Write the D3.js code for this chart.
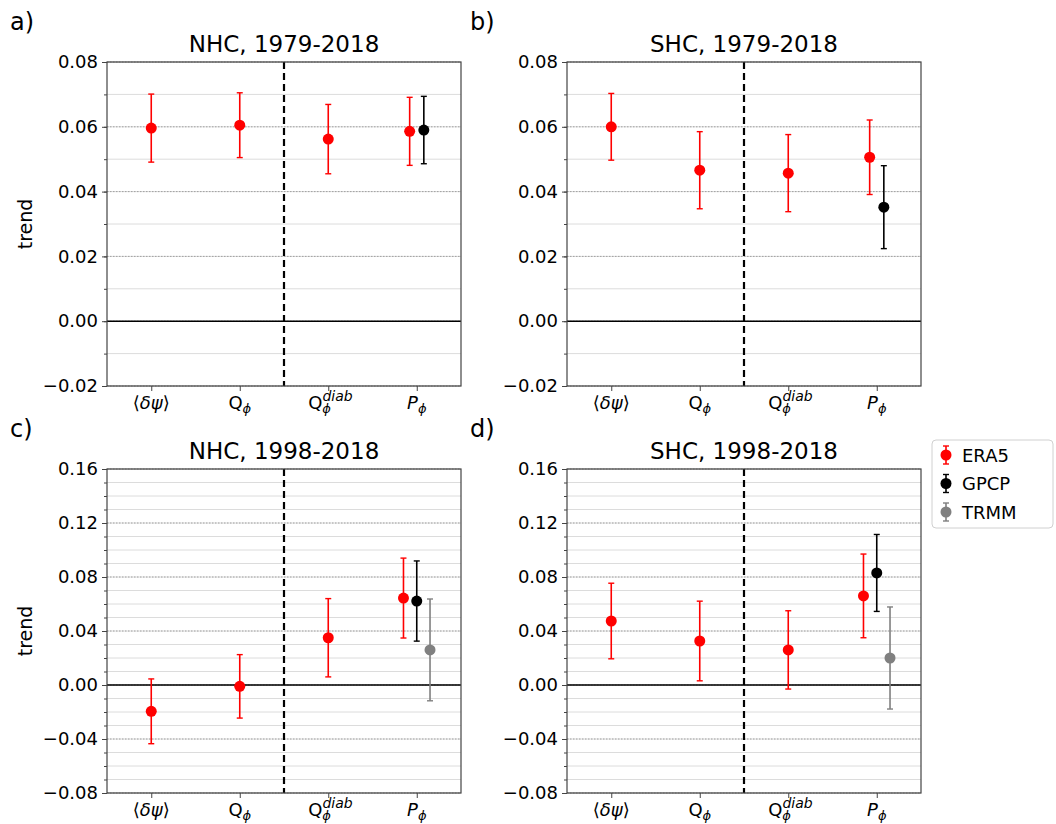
<!DOCTYPE html>
<html>
<head>
<meta charset="utf-8">
<script src="https://cdn.jsdelivr.net/npm/d3@7"></script>
<style>
  body { margin: 0; background: #fff; }
  svg text { font-family: "DejaVu Sans", sans-serif; fill: #000; }
</style>
</head>
<body>
<div id="chart"></div>
<script>
// categories along x (index 0..3)
var categories = ["dpsi", "Q", "Qdiab", "P"];

// panel titles / letters
var titles = ["NHC, 1979-2018", "SHC, 1979-2018", "NHC, 1998-2018", "SHC, 1998-2018"];
var letters = ["a)", "b)", "c)", "d)"];

// ERA5 trend and half-width of the error bar, per panel
var era5_nhc79 = [0.0596, 0.0605, 0.0562, 0.0586];
var era5_nhc79_err = [0.0105, 0.0100, 0.0107, 0.0105];
var era5_shc79 = [0.0600, 0.0466, 0.0457, 0.0506];
var era5_shc79_err = [0.0103, 0.0119, 0.0119, 0.0115];
var era5_nhc98 = [-0.0195, -0.0010, 0.0350, 0.0644];
var era5_nhc98_err = [0.0240, 0.0235, 0.0290, 0.0296];
var era5_shc98 = [0.0474, 0.0326, 0.0260, 0.0660];
var era5_shc98_err = [0.0280, 0.0295, 0.0290, 0.0310];

// observations, only for P_phi
var gpcp = [0.0590, 0.0352, 0.0622, 0.0830];
var gpcp_err = [0.0104, 0.0128, 0.0297, 0.0285];
var trmm = [null, null, 0.0260, 0.0200];
var trmm_err = [null, null, 0.0377, 0.0378];

// y axis setup per panel
var yDomains = [[-0.02, 0.08], [-0.02, 0.08], [-0.08, 0.16], [-0.08, 0.16]];
var yMajor = [d3.range(-0.02, 0.0801, 0.02), d3.range(-0.02, 0.0801, 0.02),
              d3.range(-0.08, 0.1601, 0.04), d3.range(-0.08, 0.1601, 0.04)];
var yMinorStep = 0.01;

var colors = { ERA5: "#ff0000", GPCP: "#000000", TRMM: "#808080" };

var width = 1056, height = 824;
var svg = d3.select("#chart").append("svg")
    .attr("width", width)
    .attr("height", height);

var pw = 354, ph = 324;
var origins = [[107, 62], [567, 62], [107, 469], [567, 469]];

function panel(i) {
    var ox = origins[i][0], oy = origins[i][1];
    var g = svg.append("g").attr("transform", "translate(" + ox + "," + oy + ")");

    var x = d3.scaleLinear().domain([-0.5, 3.5]).range([0, pw]);
    var y = d3.scaleLinear().domain(yDomains[i]).range([ph, 0]);

    // minor grid
    var dom = yDomains[i];
    var n = Math.round((dom[1] - dom[0]) / yMinorStep);
    var minor = d3.range(n + 1).map(function(k) { return +(dom[0] + k * yMinorStep).toFixed(4); });
    g.append("g").selectAll("line").data(minor).enter().append("line")
        .attr("x1", 0).attr("x2", pw)
        .attr("y1", function(d) { return y(d); }).attr("y2", function(d) { return y(d); })
        .attr("stroke", "#dcdcdc").attr("stroke-width", 1);
    // major grid (dotted)
    g.append("g").selectAll("line").data(yMajor[i]).enter().append("line")
        .attr("x1", 0).attr("x2", pw)
        .attr("y1", function(d) { return y(d); }).attr("y2", function(d) { return y(d); })
        .attr("stroke", "#a0a0a0").attr("stroke-width", 1)
        .attr("stroke-dasharray", "1.5,1.5");

    // zero line
    g.append("line").attr("x1", 0).attr("x2", pw)
        .attr("y1", y(0)).attr("y2", y(0))
        .attr("stroke", "#000").attr("stroke-width", 1.6);

    // dashed separator
    g.append("line").attr("x1", x(1.5)).attr("x2", x(1.5))
        .attr("y1", 0).attr("y2", ph)
        .attr("stroke", "#000").attr("stroke-width", 2.2)
        .attr("stroke-dasharray", "7,4");

    // y axis, minor ticks then major
    g.append("g")
        .call(d3.axisLeft(y).tickValues(minor).tickSize(3).tickFormat(""))
        .call(function(a) { a.select(".domain").remove(); a.selectAll("line").attr("stroke", "#444"); });
    var ya = g.append("g")
        .call(d3.axisLeft(y).tickValues(yMajor[i]).tickSize(5).tickPadding(4)
            .tickFormat(function(d) { return d3.format(".2f")(Math.abs(d) < 1e-9 ? 0 : d).replace("-", "\u2212"); }));
    ya.select(".domain").remove();
    ya.selectAll("line").attr("stroke", "#444");
    ya.selectAll("text").style("font-size", "18px").style("font-family", "DejaVu Sans");

    // x axis ticks
    var xa = g.append("g").attr("transform", "translate(0," + ph + ")")
        .call(d3.axisBottom(x).tickValues([0, 1, 2, 3]).tickSize(5).tickFormat(""));
    xa.select(".domain").remove();
    xa.selectAll("line").attr("stroke", "#444");
    categories.forEach(function(c, k) {
        var t = g.append("text").attr("x", x(k)).attr("y", ph + 23)
            .attr("text-anchor", "middle").style("font-size", "18px");
        if (c === "dpsi") {
            t.append("tspan").text("\u27e8");
            t.append("tspan").style("font-style", "italic").text("\u03b4\u03c8");
            t.append("tspan").text("\u27e9");
        } else if (c === "Q") {
            t.append("tspan").text("Q");
            t.append("tspan").attr("dy", 4).style("font-size", "13px").style("font-style", "italic").text("\u03d5");
        } else if (c === "Qdiab") {
            t.attr("x", x(k) - 20).attr("text-anchor", "start");
            t.append("tspan").text("Q");
            t.append("tspan").attr("dy", -8).style("font-size", "14px").style("font-style", "italic").text("diab");
            t.append("tspan").attr("x", x(k) - 6).attr("dy", 12).style("font-size", "13px").style("font-style", "italic").text("\u03d5");
        } else {
            t.append("tspan").style("font-style", "italic").text("P");
            t.append("tspan").attr("dy", 4).style("font-size", "13px").style("font-style", "italic").text("\u03d5");
        }
    });

    // frame
    g.append("rect").attr("width", pw).attr("height", ph)
        .attr("fill", "none").attr("stroke", "#444").attr("stroke-width", 1.2);

    // series
    var eraV = [era5_nhc79, era5_shc79, era5_nhc98, era5_shc98][i];
    var eraE = [era5_nhc79_err, era5_shc79_err, era5_nhc98_err, era5_shc98_err][i];
    var off = i < 2 ? 0.08 : 0.15;
    var pts = [];
    eraV.forEach(function(v, k) {
        pts.push({ x: k === 3 ? 3 - off : k, v: v, e: eraE[k], c: colors.ERA5 });
    });
    if (i < 2) {
        pts.push({ x: 3 + off, v: gpcp[i], e: gpcp_err[i], c: colors.GPCP });
    } else {
        pts.push({ x: 3, v: gpcp[i], e: gpcp_err[i], c: colors.GPCP });
        pts.push({ x: 3 + off, v: trmm[i], e: trmm_err[i], c: colors.TRMM });
    }
    drawPoints(g, pts, x, y);

    // title and letter
    svg.append("text").attr("x", ox + pw / 2).attr("y", oy - 10)
        .attr("text-anchor", "middle").style("font-size", "23px").text(titles[i]);
    svg.append("text").attr("x", ox - 97).attr("y", oy - 32)
        .style("font-size", "24px").text(letters[i]);

    if (i % 2 === 0) {
        svg.append("text")
            .attr("transform", "translate(" + (ox - 75) + "," + (oy + ph / 2) + ") rotate(-90)")
            .attr("text-anchor", "middle").style("font-size", "19px").text("trend");
    }
}

function drawPoints(g, pts, x, y) {
    var cap = 3;
    var sel = g.append("g").selectAll("g").data(pts).enter().append("g");
    sel.append("line")
        .attr("x1", function(d) { return x(d.x); }).attr("x2", function(d) { return x(d.x); })
        .attr("y1", function(d) { return y(d.v - d.e); }).attr("y2", function(d) { return y(d.v + d.e); })
        .attr("stroke", function(d) { return d.c; }).attr("stroke-width", 1.6);
    [-1, 1].forEach(function(s) {
        sel.append("line")
            .attr("x1", function(d) { return x(d.x) - cap; }).attr("x2", function(d) { return x(d.x) + cap; })
            .attr("y1", function(d) { return y(d.v + s * d.e); }).attr("y2", function(d) { return y(d.v + s * d.e); })
            .attr("stroke", function(d) { return d.c; }).attr("stroke-width", 1.4);
    });
    sel.append("circle")
        .attr("cx", function(d) { return x(d.x); }).attr("cy", function(d) { return y(d.v); })
        .attr("r", 5.5).attr("fill", function(d) { return d.c; });
}

for (var i = 0; i < 4; i++) panel(i);

// legend
var leg = svg.append("g").attr("transform", "translate(932,440)");
leg.append("rect").attr("width", 121).attr("height", 88).attr("rx", 4)
    .attr("fill", "#fff").attr("stroke", "#d0d0d0");
["ERA5", "GPCP", "TRMM"].forEach(function(name, k) {
    var cy = 15 + k * 28.5;
    var lg = leg.append("g").attr("transform", "translate(14," + cy + ")");
    lg.append("line").attr("y1", -9).attr("y2", 9).attr("stroke", colors[name]).attr("stroke-width", 1.6);
    lg.append("line").attr("x1", -3).attr("x2", 3).attr("y1", -9).attr("y2", -9).attr("stroke", colors[name]).attr("stroke-width", 1.4);
    lg.append("line").attr("x1", -3).attr("x2", 3).attr("y1", 9).attr("y2", 9).attr("stroke", colors[name]).attr("stroke-width", 1.4);
    lg.append("circle").attr("r", 5.5).attr("fill", colors[name]);
    leg.append("text").attr("x", 30).attr("y", cy + 6.5).style("font-size", "18px").text(name);
});
</script>
</body>
</html>
